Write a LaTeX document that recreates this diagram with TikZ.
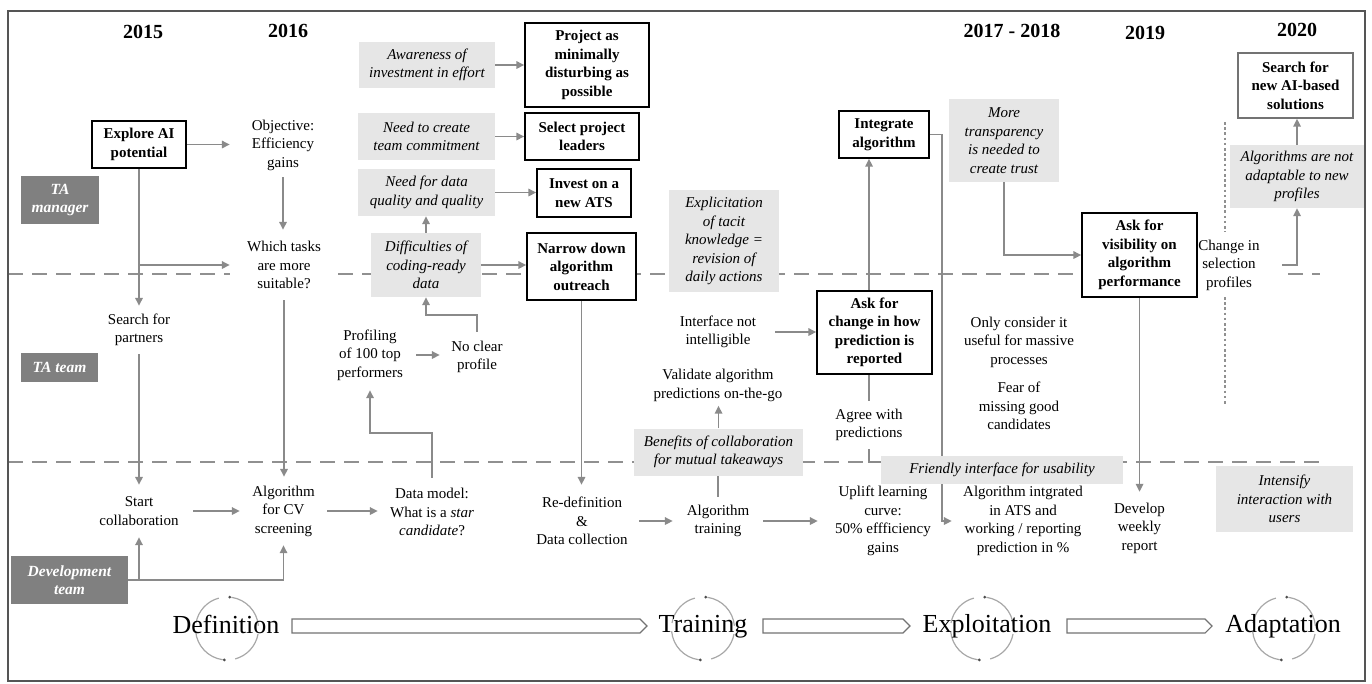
\documentclass[tikz,border=0pt]{standalone}
\usepackage{fontspec}
\setmainfont{Liberation Serif}
\usetikzlibrary{arrows.meta}
\pgfdeclarelayer{bg}
\pgfsetlayers{bg,main}
\definecolor{boxgray}{HTML}{E6E6E6}
\definecolor{lanegray}{HTML}{808080}
\definecolor{conngray}{HTML}{8A8A8A}
\definecolor{dashgray}{HTML}{909090}
\definecolor{framegray}{HTML}{555555}
\definecolor{circgray}{HTML}{A8A8A8}
\begin{document}
\begin{tikzpicture}[x=1pt,y=-1pt,
 base/.style={align=center, inner sep=0pt, font=\fontsize{15}{18.5}\selectfont},
 gbox/.style={base, fill=boxgray, font=\fontsize{15}{18.5}\selectfont\itshape},
 bbox/.style={base, draw=black, line width=1.4pt, fill=white, font=\fontsize{15}{18.5}\selectfont\bfseries},
 lanebox/.style={base, fill=lanegray, text=white, font=\fontsize{15.5}{18.5}\selectfont\bfseries\itshape},
 yearlbl/.style={anchor=base, inner sep=0pt, font=\fontsize{20}{24}\selectfont\bfseries},
 phaselbl/.style={anchor=base, inner sep=0pt, font=\fontsize{26}{30}\selectfont},
 conn/.style={draw=conngray, line width=1.6pt},
 arr/.style={conn, -{Triangle[length=8pt,width=7.5pt]}},
 lanesep/.style={draw=dashgray, line width=2.8pt, dash pattern=on 15pt off 9pt},
 dotsep/.style={draw=dashgray, line width=2.6pt, dash pattern=on 2.6pt off 2.6pt},
 phasearrow/.style={draw=black!55, line width=1.1pt, fill=white},
 cyc/.style={draw=circgray, line width=1.2pt},
]
\useasboundingbox (0,0) rectangle (1372,683);

% years
\node[yearlbl] (y15) at (143,38) {2015};
\node[yearlbl] (y16) at (288,37) {2016};
\node[yearlbl] (y17) at (1012,37) {2017 - 2018};
\node[yearlbl] (y19) at (1145,39) {2019};
\node[yearlbl] (y20) at (1297,36) {2020};

% lanes
\node[lanebox, minimum width=78pt, minimum height=48pt] (lmgr) at (60,200) {TA\\manager};
\node[lanebox, minimum width=77pt, minimum height=29pt] (lteam) at (59.5,367.5) {TA team};
\node[lanebox, minimum width=117pt, minimum height=48pt] (ldev) at (69.5,580) {Development\\team};

% gray boxes
\node[gbox, minimum width=136pt, minimum height=46pt] (aware) at (427,65) {Awareness of\\investment in effort};
\node[gbox, minimum width=137pt, minimum height=47pt] (needteam) at (426.5,136.5) {Need to create\\team commitment};
\node[gbox, minimum width=137pt, minimum height=47pt] (needdata) at (426.5,192.5) {Need for data\\quality and quality};
\node[gbox, minimum width=110pt, minimum height=64pt] (diff) at (426,265) {Difficulties of\\coding-ready\\data};
\node[gbox, minimum width=110pt, minimum height=102pt] (expl) at (724,241) {Explicitation\\of tacit\\knowledge =\\revision of\\daily actions};
\node[gbox, minimum width=169pt, minimum height=47pt] (benef) at (718.5,452) {Benefits of collaboration\\for mutual takeaways};
\node[gbox, minimum width=242pt, minimum height=28pt] (friendly) at (1002,470) {Friendly interface for usability};
\node[gbox, minimum width=110pt, minimum height=83pt] (transp) at (1004,140.5) {More\\transparency\\is needed to\\create trust};
\node[gbox, minimum width=134pt, minimum height=63pt] (notadapt) at (1297,176.5) {Algorithms are not\\adaptable to new\\profiles};
\node[gbox, minimum width=137pt, minimum height=66pt] (intens) at (1284.5,499) {Intensify\\interaction with\\users};

% bold boxes
\node[bbox, minimum width=94pt, minimum height=47pt] (explore) at (139,144.5) {Explore AI\\potential};
\node[bbox, minimum width=124pt, minimum height=84pt] (proj) at (587,65) {Project as\\minimally\\disturbing as\\possible};
\node[bbox, minimum width=114pt, minimum height=47pt] (leaders) at (582,136.5) {Select project\\leaders};
\node[bbox, minimum width=94pt, minimum height=48pt] (ats) at (584,193) {Invest on a\\new ATS};
\node[bbox, minimum width=109pt, minimum height=67pt] (narrow) at (581.5,266.5) {Narrow down\\algorithm\\outreach};
\node[bbox, minimum width=90pt, minimum height=47pt] (integ) at (884,134.5) {Integrate\\algorithm};
\node[bbox, minimum width=115pt, minimum height=83pt] (askchg) at (874.5,332.5) {Ask for\\change in how\\prediction is\\reported};
\node[bbox, minimum width=115pt, minimum height=84pt] (askvis) at (1139.5,255) {Ask for\\visibility on\\algorithm\\performance};
\node[bbox, draw=black!55, minimum width=115pt, minimum height=65pt] (search) at (1295.5,85.5) {Search for\\new AI-based\\solutions};

% plain texts
\node[base, minimum width=106pt, minimum height=64pt] (obj) at (283,145) {Objective:\\Efficiency\\gains};
\node[base, minimum width=108pt, minimum height=70pt] (which) at (284,265) {Which tasks\\are more\\suitable?};
\node[base, minimum height=48pt] (partners) at (139,330) {Search for\\partners};
\node[base, minimum width=92pt, minimum height=70pt] (prof) at (370,355) {Profiling\\of 100 top\\performers};
\node[base, minimum width=74pt, minimum height=50pt] (noclear) at (477,357) {No clear\\profile};
\node[base, minimum width=114pt, minimum height=40pt] (iface) at (718,332) {Interface not\\intelligible};
\node[base, minimum height=40pt] (valid) at (718,385.5) {Validate algorithm\\predictions on-the-go};
\node[base, minimum height=48pt] (agree) at (869,425) {Agree with\\predictions};
\node[base] (massive) at (1019,342) {Only consider it\\useful for massive\\processes};
\node[base] (fear) at (1019,406) {Fear of\\missing good\\candidates};
\node[base, minimum width=106pt, minimum height=66pt] (chg) at (1229,265) {Change in\\selection\\profiles};
\node[base, minimum width=108pt, minimum height=52pt] (startc) at (139,511) {Start\\collaboration};
\node[base, minimum width=87pt, minimum height=68pt] (cv) at (283.5,511) {Algorithm\\for CV\\screening};
\node[base, minimum width=108pt, minimum height=68pt] (dm) at (432,512) {Data model:\\What is a \textit{star}\\\textit{candidate}?};
\node[base, minimum width=114pt, minimum height=72pt] (redef) at (582,521) {Re-definition\\\&\\Data collection};
\node[base, minimum width=90pt, minimum height=48pt] (train) at (718,521) {Algorithm\\training};
\node[base, minimum width=130pt] (uplift) at (883,521) {Uplift learning\\curve:\\50\% effficiency\\gains};
\node[base, minimum width=142pt] (algint) at (1023,521) {Algorithm intgrated\\in ATS and\\working / reporting\\prediction in \%};
\node[base, minimum height=72pt] (weekly) at (1139.5,528) {Develop\\weekly\\report};

% phases
\foreach \cx in {227,703,982,1284} {
  \foreach \a/\b in {5/82,105/170,185/262,285/350}
    \draw[cyc] (\cx,628.5) ++(\a:31.5pt) arc[start angle=\a, end angle=\b, radius=31.5pt];
  \fill[black!70] (\cx,628.5) ++(85:31.5pt) circle[radius=1.6pt];
  \fill[black!70] (\cx,628.5) ++(265:31.5pt) circle[radius=1.6pt];
}
\draw[phasearrow] (292,619) -- (640,619) -- (647,626) -- (640,633) -- (292,633) -- cycle;
\draw[phasearrow] (763,619) -- (903,619) -- (910,626) -- (903,633) -- (763,633) -- cycle;
\draw[phasearrow] (1067,619) -- (1205,619) -- (1212,626) -- (1205,633) -- (1067,633) -- cycle;
\node[phaselbl] (pdef) at (226,633) {Definition};
\node[phaselbl] (ptrain) at (703,632) {Training};
\node[phaselbl] (pexp) at (987,632) {Exploitation};
\node[phaselbl] (padapt) at (1283,632) {Adaptation};

\begin{pgfonlayer}{bg}
\draw[lanesep] (8,274) -- (230,274);
\draw[lanesep] (338,274) -- (1197,274);
\draw[lanesep] (1288,274) -- (1320,274);
\draw[lanesep] (8,462) -- (1320,462);
\draw[dotsep] (1225,122) -- (1225,232);
\draw[dotsep] (1225,297) -- (1225,405);

\draw[arr] (explore.east) -- (explore.east -| obj.west);
\draw[arr] (explore.south) -- (partners.north);
\draw[arr] (explore.south |- which.west) -- (which.west);
\draw[arr] (obj.south) -- (obj.south |- which.north);
\draw[arr] (which.south) -- (which.south |- cv.north);
\draw[arr] (partners.south) -- (startc.north);
\draw[arr] (ldev.east) -| (cv.south);
\draw[arr] (ldev.east -| startc.south) -- (startc.south);
\draw[arr] (startc.east) -- (startc.east -| cv.west);
\draw[arr] (cv.east) -- (cv.east -| dm.west);
\draw[arr] (dm.north) -- ++(0,-45) -| (prof.south);
\draw[arr] (prof.east) -- (prof.east -| noclear.west);
\draw[arr] (noclear.north) -- ++(0,-17) -| (diff.south);
\draw[arr] (diff.north) -- (diff.north |- needdata.south);
\draw[arr] (aware.east) -- (aware.east -| proj.west);
\draw[arr] (needteam.east) -- (needteam.east -| leaders.west);
\draw[arr] (needdata.east) -- (needdata.east -| ats.west);
\draw[arr] (diff.east) -- (diff.east -| narrow.west);
\draw[arr] (narrow.south) -- (narrow.south |- redef.north);
\draw[arr] (redef.east) -- (redef.east -| train.west);
\draw[arr] (train.east) -- (train.east -| uplift.west);
\draw[conn] (train.north) -- (train.north |- benef.south);
\draw[arr] (benef.north) -- (benef.north |- valid.south);
\draw[arr] (iface.east) -- (iface.east -| askchg.west);
\draw[arr] ([xshift=-5.5pt]askchg.north) -- ([xshift=-5.5pt]askchg.north |- integ.south);
\draw[conn] ([xshift=-5.5pt]askchg.south) -- ([xshift=-5.5pt]askchg.south |- agree.north);
\draw[conn] (agree.south) |- ([yshift=8pt]friendly.west);
\draw[arr] (integ.east) -- ++(12,0) |- (algint.west);
\draw[arr] (transp.south) |- (askvis.west);
\draw[arr] (askvis.south) -- (askvis.south |- weekly.north);
\draw[arr] (chg.east) -| (notadapt.south);
\draw[arr] (notadapt.north) -- (notadapt.north |- search.south);
\end{pgfonlayer}

\draw[framegray, line width=2pt] (8,11) rectangle (1365,681);
\end{tikzpicture}
\end{document}
